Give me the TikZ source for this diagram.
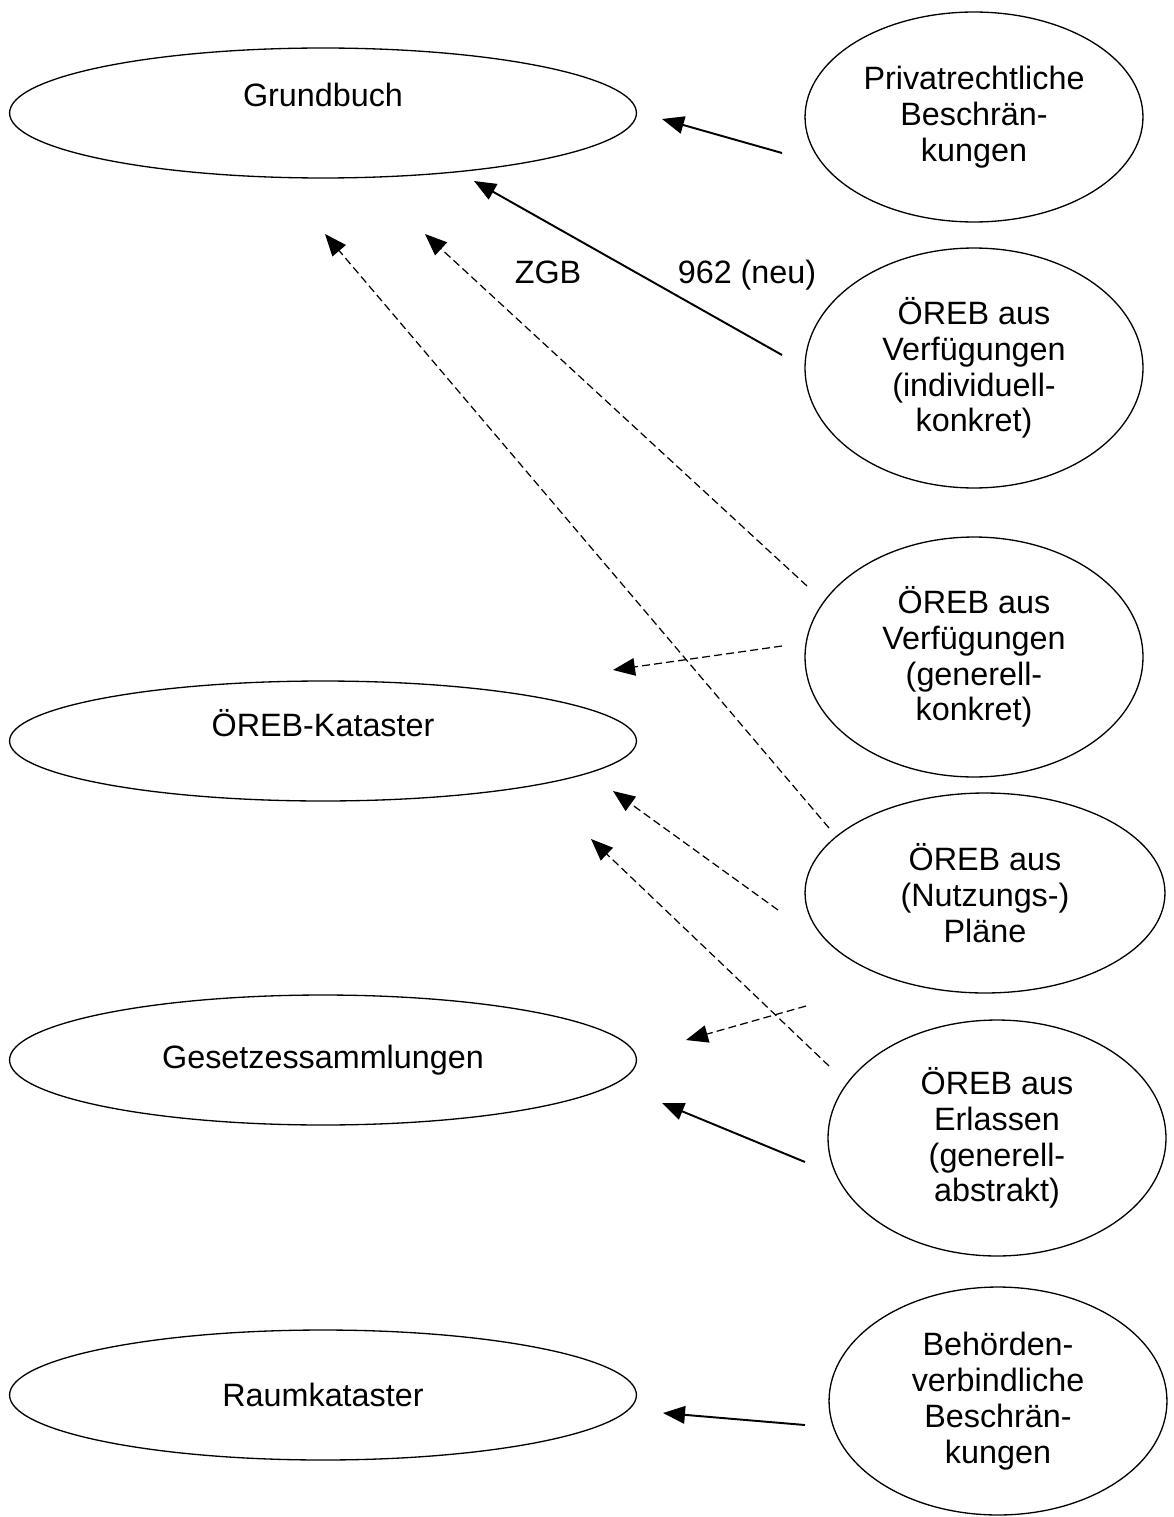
\documentclass[tikz,border=0pt]{standalone}
\usepackage{fontspec}
\setmainfont{Liberation Sans}
\usetikzlibrary{shapes.geometric,arrows.meta}

\tikzset{
  schrift/.style={font=\fontsize{18.4}{20.4}\selectfont},
  oval/.style={ellipse, draw, line width=0.75pt, inner sep=0pt, align=center, schrift},
  links/.style={oval, minimum width=12.54cm},
  rechts/.style={oval, minimum width=6.76cm},
  pfeil/.style={-{Triangle[length=12.5pt,width=10pt]}, line width=1.1pt},
  gestrichelt/.style={pfeil, line width=0.7pt, dash pattern=on 4.5pt off 2.4pt},
}

\begin{document}
\begin{tikzpicture}[x=0.02cm, y=-0.02cm]
    \useasboundingbox (0,0) rectangle (1173,1517);

    \node[links, minimum height=2.6cm, text height=0.48cm, text depth=0.74cm] (grundbuch) at (323,113) {Grundbuch};
    \node[links, minimum height=2.4cm, text height=0.48cm, text depth=0.66cm] (kataster) at (323,741) {ÖREB-Kataster};
    \node[links, minimum height=2.6cm] (gesetze) at (323,1060) {Gesetzessammlungen};
    \node[links, minimum height=2.6cm] (raum) at (323,1395) {Raumkataster};

    \node[rechts, minimum height=4.2cm] (privat) at (974,117) {Privatrechtliche\\Beschrän-\\kungen};
    \node[rechts, minimum height=4.8cm] (indiv) at (974,368) {ÖREB aus\\Verfügungen\\(individuell-\\konkret)};
    \node[rechts, minimum height=4.8cm] (genkon) at (974,657) {ÖREB aus\\Verfügungen\\(generell-\\konkret)};
    \node[oval, minimum width=7.2cm, minimum height=4cm] (plaene) at (985,893) {ÖREB aus\\(Nutzungs-)\\Pläne};
    \node[rechts, minimum height=4.72cm] (erlasse) at (997,1138) {ÖREB aus\\Erlassen\\(generell-\\abstrakt)};
    \node[rechts, minimum height=4.56cm] (behoerde) at (998,1401) {Behörden-\\verbindliche\\Beschrän-\\kungen};

    \node[schrift, anchor=base] (zgb) at (548,283) {ZGB};
    \node[schrift, anchor=base] (artikel) at (747,283) {962 (neu)};

    \coordinate (privat-a) at (782,153);
    \coordinate (grund-a) at (662,119);
    \coordinate (indiv-a) at (782,355);
    \coordinate (grund-b) at (474,181);
    \coordinate (genkon-a) at (807,586);
    \coordinate (grund-c) at (425,234);
    \coordinate (plaene-a) at (829,828);
    \coordinate (grund-d) at (325,234);
    \coordinate (genkon-b) at (782,646);
    \coordinate (kat-a) at (613,670);
    \coordinate (plaene-b) at (778,910);
    \coordinate (kat-b) at (613,791);
    \coordinate (erlasse-a) at (829,1066);
    \coordinate (kat-c) at (591,839);
    \coordinate (erlasse-b) at (806,1006);
    \coordinate (ges-a) at (686,1040);
    \coordinate (erlasse-c) at (805,1162);
    \coordinate (ges-b) at (662,1103);
    \coordinate (behoerde-a) at (805,1425);
    \coordinate (raum-a) at (663,1413);

    \draw[pfeil] (privat-a) -- (grund-a);
    \draw[pfeil] (indiv-a) -- (grund-b);
    \draw[gestrichelt] (genkon-a) -- (grund-c);
    \draw[gestrichelt] (plaene-a) -- (grund-d);
    \draw[gestrichelt] (genkon-b) -- (kat-a);
    \draw[gestrichelt] (plaene-b) -- (kat-b);
    \draw[gestrichelt] (erlasse-a) -- (kat-c);
    \draw[gestrichelt] (erlasse-b) -- (ges-a);
    \draw[pfeil] (erlasse-c) -- (ges-b);
    \draw[pfeil] (behoerde-a) -- (raum-a);
\end{tikzpicture}
\end{document}
